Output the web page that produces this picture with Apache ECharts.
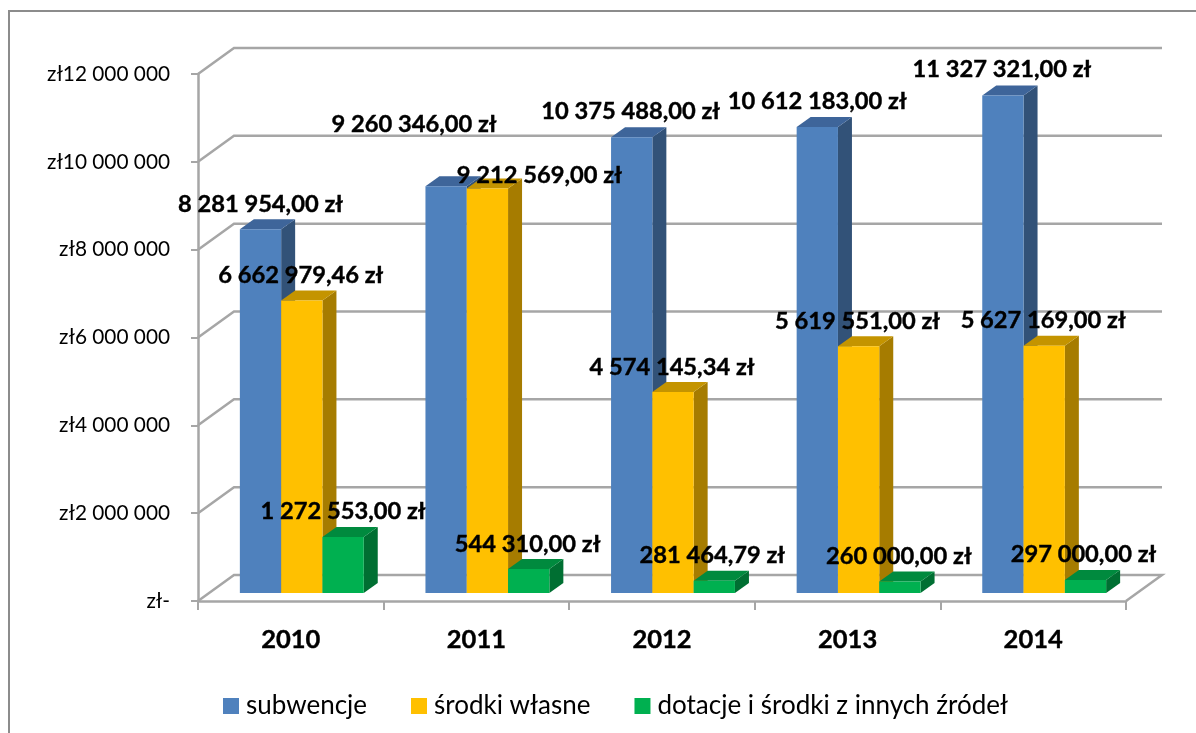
<!DOCTYPE html>
<html><head><meta charset="utf-8">
<style>html,body{margin:0;padding:0;background:#fff}#c{width:1196px;height:733px}</style>
<script src="https://cdn.jsdelivr.net/npm/echarts@6/dist/echarts.min.js"></script>
</head><body><div id="c"></div>
<script>
const categories = ['2010','2011','2012','2013','2014'];
const subwencje = [8281954.00, 9260346.00, 10375488.00, 10612183.00, 11327321.00];
const srodkiWlasne = [6662979.46, 9212569.00, 4574145.34, 5619551.00, 5627169.00];
const dotacje = [1272553.00, 544310.00, 281464.79, 260000.00, 297000.00];
const seriesNames = ['subwencje','środki własne','dotacje i środki z innych źródeł'];
const gridValues = [0, 2000000, 4000000, 6000000, 8000000, 10000000, 12000000];
const FONT = 'Lato';
// manual label displacement from the front-top centre of each bar [dx, dy]
const labelShift = [
 [[0,-25],[-32,-62],[-1,-26],[0,-26],[-1,-26]],
 [[-1,-25],[52,-13],[-1,-25],[-1,-25],[-1,-26]],
 [[0,-26],[-1,-25],[-2,-25],[-1,-25],[-2,-26]]
];
const faces = [
 {front:'#4f81bd', top:'#3e659a', side:'#325278'},
 {front:'#ffc000', top:'#c49400', side:'#a67c00'},
 {front:'#00b050', top:'#008a3e', side:'#006f32'}
];
const WALL_DX = 36, WALL_DY = -26, BAR_DX = 14, BAR_DY = -10, BASE_DX = 11, BASE_DY = -8, BAR_FRAC = 0.2225;
const GREY = '#a6a6a6';

function fmtMoney(v){
  const [i,d] = v.toFixed(2).split('.');
  return i.replace(/\B(?=(\d{3})+$)/g,' ') + ',' + d + ' zł';
}
function barGeom(api, s){
  const cat = api.value(0), val = api.value(1);
  const slot = api.size([1,0])[0];
  const w = slot*BAR_FRAC;
  const c = api.coord([cat,val]), b = api.coord([cat,0]);
  const x = c[0] + BASE_DX + (s-1.5)*w;
  return {x, w, top:c[1]+BASE_DY, bottom:b[1]+BASE_DY};
}
function barRender(s){
  return function(params, api){
    const g = barGeom(api,s), f = faces[s];
    return {type:'group', children:[
      {type:'polygon', shape:{points:[[g.x+g.w,g.top],[g.x+g.w+BAR_DX,g.top+BAR_DY],[g.x+g.w+BAR_DX,g.bottom+BAR_DY],[g.x+g.w,g.bottom]]}, style:{fill:f.side}},
      {type:'polygon', shape:{points:[[g.x,g.top],[g.x+BAR_DX,g.top+BAR_DY],[g.x+g.w+BAR_DX,g.top+BAR_DY],[g.x+g.w,g.top]]}, style:{fill:f.top}},
      {type:'rect', shape:{x:g.x,y:g.top,width:g.w,height:g.bottom-g.top}, style:{fill:f.front}}
    ]};
  };
}
function labelRender(s){
  return function(params, api){
    const g = barGeom(api,s), sh = labelShift[s][params.dataIndex];
    return {type:'text', style:{text:fmtMoney(api.value(1)), x:g.x+g.w/2+sh[0], y:g.top+sh[1],
      align:'center', verticalAlign:'middle', fill:'#000', stroke:'#000', lineWidth:0.4, font:'bold 23.7px '+FONT}};
  };
}
function wallRender(params, api){
  const v = api.value(1), n = categories.length;
  const slot = api.size([1,0])[0];
  const p = api.coord([0,v]);
  const x0 = p[0]-slot/2, x1 = x0+slot*n, y = p[1];
  const pts = [[x0,y],[x0+WALL_DX,y+WALL_DY],[x1+WALL_DX,y+WALL_DY]];
  if (v===0) pts.push([x1,y]);
  return {type:'polyline', shape:{points:pts}, style:{fill:null, stroke:GREY, lineWidth:2.5}};
}
const sets = [subwencje, srodkiWlasne, dotacje];
const series = [{type:'custom', name:'_walls', z:1, silent:true, renderItem:wallRender,
  encode:{x:0,y:1}, data:gridValues.map(v=>[0,v]), itemStyle:{color:GREY}}];
sets.forEach((vals,s)=>series.push({type:'custom', name:seriesNames[s], z:3+s, renderItem:barRender(s),
  itemStyle:{color:faces[s].front}, encode:{x:0,y:1}, data:vals.map((v,i)=>[i,v])}));
sets.forEach((vals,s)=>series.push({type:'custom', name:'_labels'+s, z:10, silent:true, renderItem:labelRender(s),
  encode:{x:0,y:1}, data:vals.map((v,i)=>[i,v])}));

const chart = echarts.init(document.getElementById('c'),null,{renderer:'canvas'});
chart.setOption({
  animation:false,
  backgroundColor:'#fff',
  textStyle:{fontFamily:FONT},
  graphic:[{type:'polyline', z:0, shape:{points:[[9,733],[9,11],[1196,11]]}, style:{fill:'none',stroke:'#8c8c8c',lineWidth:2}}],
  grid:{left:198,right:70,top:74,height:527,containLabel:false},
  legend:{left:223,top:693,padding:0,itemWidth:16,itemHeight:16,itemGap:44,icon:'rect',data:seriesNames,
    textStyle:{fontFamily:FONT,fontSize:26,color:'#000',padding:[0,0,5,2]}},
  xAxis:{type:'category',data:categories,
    axisLine:{lineStyle:{color:GREY,width:2.5}},
    axisTick:{show:true,length:9,lineStyle:{color:GREY,width:2}},
    axisLabel:{fontFamily:FONT,fontWeight:'bold',fontSize:25.5,color:'#000',margin:26,textBorderColor:'#000',textBorderWidth:0.4},
    splitLine:{show:false}},
  yAxis:{type:'value',min:0,max:12000000,interval:2000000,
    axisLine:{show:true,lineStyle:{color:GREY,width:2.5}},
    axisTick:{show:true,length:7,lineStyle:{color:GREY,width:2}},
    axisLabel:{fontFamily:FONT,fontSize:20.8,color:'#000',margin:28,padding:[5,0,0,0],
      formatter:v=> v===0 ? 'zł-' : 'zł'+String(v).replace(/\B(?=(\d{3})+$)/g,' ')},
    splitLine:{show:false}},
  series
});
</script></body></html>
